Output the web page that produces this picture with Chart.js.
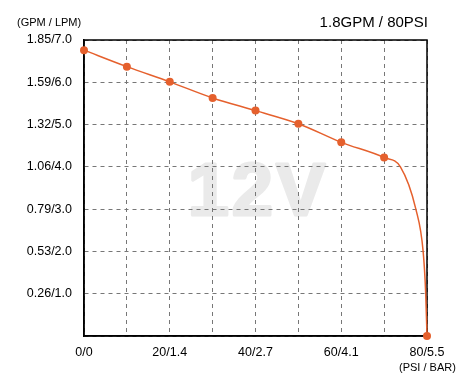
<!DOCTYPE html>
<html>
<head>
<meta charset="utf-8">
<script src="https://cdn.jsdelivr.net/npm/chart.js@4.4.1/dist/chart.umd.min.js"></script>
<style>
  html, body { margin: 0; padding: 0; background: #fff; }
  #wrap { width: 472px; height: 388px; }
</style>
</head>
<body>
<div id="wrap"><canvas id="pumpChart" width="472" height="388"></canvas></div>
<script>
// pressure (PSI) vs flow (LPM)
const psi = [0, 10, 20, 30, 40, 50, 60, 70, 73.8, 77.4, 79.1, 79.7, 80];
const lpm = [6.76, 6.37, 6.01, 5.63, 5.33, 5.02, 4.58, 4.22, 4.0, 3.0, 2.0, 1.0, 0];

// tick labels
const xTickLabels = { 0: '0/0', 20: '20/1.4', 40: '40/2.7', 60: '60/4.1', 80: '80/5.5' };
const yTickLabels = { 1: '0.26/1.0', 2: '0.53/2.0', 3: '0.79/3.0', 4: '1.06/4.0', 5: '1.32/5.0', 6: '1.59/6.0', 7: '1.85/7.0' };

const chartTitle = '1.8GPM / 80PSI';
const yUnit = '(GPM / LPM)';
const xUnit = '(PSI / BAR)';
const watermark = '12V';

const FONT = 'Arial, "Liberation Sans", sans-serif';
const ORANGE = '#e5602d';

// big grey "12V" behind the grid
const watermarkPlugin = {
    id: 'watermark',
    beforeDraw(chart) {
        const { ctx } = chart;
        ctx.save();
        ctx.fillStyle = '#eaeaea';
        ctx.strokeStyle = '#eaeaea';
        ctx.lineWidth = 3;
        ctx.lineJoin = 'round';
        ctx.font = 'bold 74px ' + FONT;
        ctx.textAlign = 'center';
        ctx.textBaseline = 'alphabetic';
        ctx.letterSpacing = '3px';
        ctx.fillText(watermark, 258, 215);
        ctx.strokeText(watermark, 258, 215);
        ctx.restore();
    }
};

// solid black frame round the plot
const framePlugin = {
    id: 'frame',
    beforeDatasetsDraw(chart) {
        const { ctx, chartArea: a } = chart;
        ctx.save();
        ctx.strokeStyle = '#000';
        ctx.lineWidth = 1.5;
        ctx.strokeRect(a.left, a.top, a.right - a.left, a.bottom - a.top);
        ctx.restore();
    }
};

// unit labels and title
const labelsPlugin = {
    id: 'labels',
    afterDraw(chart) {
        const { ctx } = chart;
        ctx.save();
        ctx.fillStyle = '#000';
        ctx.textBaseline = 'middle';
        ctx.font = '11px ' + FONT;
        ctx.textAlign = 'left';
        ctx.fillText(yUnit, 17, 23);
        ctx.fillText(xUnit, 399, 368);
        ctx.font = '15px ' + FONT;
        ctx.textAlign = 'right';
        ctx.fillText(chartTitle, 428, 23);
        ctx.restore();
    }
};

const ctx = document.getElementById('pumpChart').getContext('2d');
new Chart(ctx, {
    type: 'line',
    data: {
        datasets: [{
            data: psi.map((p, i) => ({ x: p, y: lpm[i] })),
            borderColor: ORANGE,
            backgroundColor: ORANGE,
            borderWidth: 1.5,
            pointRadius: psi.map(p => (p % 10 === 0 ? 4 : 0)),
            pointBorderWidth: 0,
            cubicInterpolationMode: 'monotone',
            clip: false
        }]
    },
    options: {
        responsive: false,
        animation: false,
        events: [],
        layout: { padding: { left: 0, right: 45, top: 40, bottom: 22 } },
        plugins: { legend: { display: false }, tooltip: { enabled: false } },
        scales: {
            x: {
                type: 'linear',
                min: 0,
                max: 80,
                afterFit(scale) { scale.height = 30; },
                ticks: {
                    stepSize: 10,
                    autoSkip: false,
                    maxRotation: 0,
                    padding: 9,
                    color: '#000',
                    font: { family: FONT, size: 12.5 },
                    callback: v => xTickLabels[v] || ''
                },
                grid: { color: '#777', drawTicks: false, lineWidth: 1 },
                border: { color: '#000', width: 1.5, dash: [4, 4] }
            },
            y: {
                min: 0,
                max: 7,
                afterFit(scale) { scale.width = 84; },
                ticks: {
                    stepSize: 1,
                    padding: 12,
                    color: '#000',
                    font: { family: FONT, size: 12.5 },
                    callback: v => yTickLabels[v] || ''
                },
                grid: { color: '#777', drawTicks: false, lineWidth: 1 },
                border: { color: '#000', width: 1.5, dash: [4, 4] }
            }
        }
    },
    plugins: [watermarkPlugin, framePlugin, labelsPlugin]
});
</script>
</body>
</html>
